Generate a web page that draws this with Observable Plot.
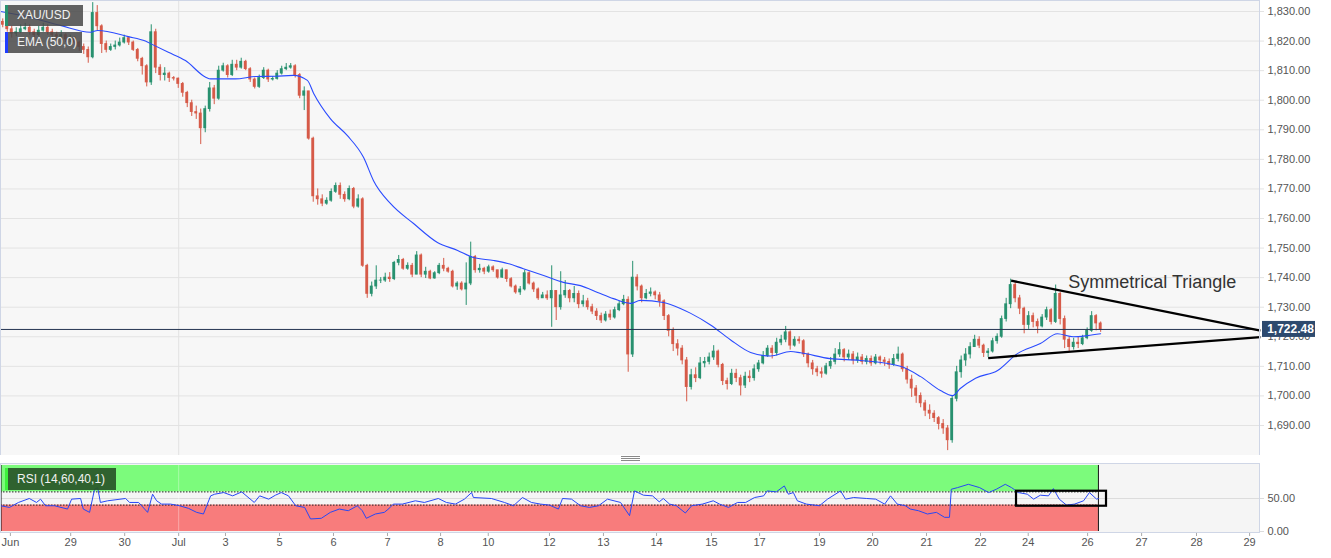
<!DOCTYPE html>
<html><head><meta charset="utf-8">
<script src="https://cdn.jsdelivr.net/npm/d3@7"></script>
<script src="https://cdn.jsdelivr.net/npm/@observablehq/plot@0.6"></script>
<style>
html,body{margin:0;padding:0;background:#fff;}
#chart{position:relative;width:1331px;height:558px;overflow:hidden;font-family:"Liberation Sans",Arial,sans-serif;background:#fff;}
#chart svg{position:absolute;left:0;}
.leg{position:absolute;left:5px;height:21px;line-height:21px;color:#f2f2f2;font-size:12px;padding-left:12px;box-sizing:border-box;white-space:nowrap;}
.leg i{position:absolute;left:0;top:0;bottom:0;width:3px;}
.handle{position:absolute;left:621px;top:456px;width:19px;height:5px;background:repeating-linear-gradient(#8a8a8a 0 1px,transparent 1px 2px);}
</style></head><body><div id="chart"></div>
<script>
// ---------- DATA ----------
const symbol = "XAU/USD";
const emaLabel = "EMA (50,0)";
const rsiLabel = "RSI (14,60,40,1)";
const firstOpen = 1826.5;
const lastPrice = 1722.48;

// 2-hour candles, 12 per session
const closes = [
1825.5,1824.0,1822.5,1823.0,1824.0,1824.5,1823.0,1822.0,1823.5,1824.5,1823.0,1822.0,
1821.5,1822.0,1820.5,1821.0,1819.5,1818.0,1817.0,1814.5,1829.5,1825.0,1819.0,1817.0,
1818.0,1818.5,1819.5,1821.0,1819.5,1817.0,1814.0,1811.5,1806.0,1823.0,1811.0,1808.5,
1809.0,1807.5,1807.3,1805.5,1802.5,1799.0,1796.0,1795.5,1790.5,1797.0,1804.0,1800.5,
1810.0,1811.5,1808.5,1812.0,1811.0,1813.0,1810.5,1807.0,1804.5,1807.5,1810.0,1807.0,
1807.2,1809.0,1810.5,1811.0,1811.5,1808.5,1801.5,1803.0,1787.0,1767.5,1766.5,1765.0,
1766.0,1769.0,1771.0,1768.0,1766.5,1770.0,1764.0,1766.5,1744.0,1734.5,1737.0,1739.0,
1739.0,1740.0,1739.5,1745.0,1746.0,1743.0,1744.0,1741.0,1747.5,1741.0,1742.0,1739.7,
1741.5,1744.0,1743.0,1742.0,1737.0,1738.0,1736.0,1738.0,1747.0,1742.5,1743.0,1742.0,
1743.5,1742.5,1740.0,1742.5,1739.5,1737.0,1735.0,1736.0,1741.5,1738.0,1736.0,1733.0,
1734.0,1733.0,1735.5,1730.0,1734.0,1735.5,1733.0,1734.5,1731.0,1732.0,1730.0,1728.5,
1727.0,1725.5,1727.5,1726.5,1729.0,1731.0,1732.5,1714.0,1740.0,1737.0,1733.0,1734.5,
1735.0,1734.0,1732.0,1727.0,1722.0,1717.5,1716.0,1712.0,1703.0,1707.0,1706.0,1711.0,
1711.5,1713.0,1715.0,1710.5,1705.0,1704.0,1707.5,1706.0,1703.5,1706.5,1706.0,1709.0,
1711.0,1713.5,1716.0,1714.5,1718.0,1719.0,1721.5,1717.0,1719.0,1718.5,1714.0,1711.0,
1709.0,1708.0,1707.5,1710.0,1711.5,1714.0,1715.5,1713.0,1714.0,1712.0,1713.0,1711.5,
1712.5,1711.0,1713.0,1712.0,1711.5,1710.5,1712.5,1714.0,1709.0,1705.5,1702.5,1700.0,
1697.5,1695.0,1694.0,1692.5,1690.5,1689.0,1685.0,1699.0,1708.0,1712.0,1714.0,1716.5,
1719.0,1717.0,1714.5,1715.0,1718.5,1720.0,1726.0,1731.0,1737.5,1733.0,1729.5,1724.0,
1727.0,1725.0,1723.5,1726.5,1729.0,1725.0,1734.5,1726.0,1719.0,1716.5,1718.0,1717.5,
1719.5,1722.0,1727.0,1724.5,1722.48
];
const highs = [
1827.5,1826.5,1825,1824.5,1825.5,1826,1825.5,1824,1825,1826,1825.5,1824,
1823,1823.5,1822.5,1822,1821.5,1820,1819,1818,1833,1832,1825.5,1820,
1819,1820,1821,1822,1821.5,1820,1817.5,1814.5,1812,1825.5,1824,1812,
1811,1809.5,1808,1807.5,1806,1803,1800,1798,1797,1798,1806,1805,
1811.5,1812.5,1812,1813.5,1813.5,1814.2,1813.5,1811,1807.5,1808.5,1811,1810.5,
1808,1810,1811.5,1812.4,1812.4,1812,1809,1804.5,1803,1787.5,1770,1768,
1767,1770,1772,1772,1769,1771,1770.5,1768,1767,1744.5,1738.5,1744,
1740,1741.5,1741.7,1745.5,1747.5,1746.5,1745,1744.8,1748.8,1748,1743.5,1742.5,
1742,1744.8,1746.5,1743.5,1742.5,1738.6,1738.6,1745,1752,1747.5,1744.5,1743.5,
1744.2,1744,1742.5,1743.2,1742.2,1740,1737.5,1737,1742.5,1742,1738.5,1736.5,
1735,1735.5,1744,1735.5,1742,1739,1736,1737,1735.5,1734,1733,1731,
1729.5,1728,1728.5,1729,1730,1732,1734,1733.5,1745.5,1741,1737.5,1736,
1736.5,1735.5,1735,1732.5,1727.5,1723,1719,1717,1713,1709,1709.5,1713,
1713,1714.5,1717,1715.5,1711,1706,1709,1709,1707,1708,1708.5,1710.5,
1712,1715,1717,1717,1719.5,1720.5,1723.5,1722,1720,1720,1719,1714.5,
1712,1710,1709.5,1711,1713,1716,1718,1716,1715.5,1715,1714.5,1714,
1713.5,1713.5,1714,1713.5,1713,1712.5,1714,1716.5,1714.5,1710,1707,1703.5,
1701,1698.5,1697,1695,1693,1692,1690,1700,1710,1713.5,1716,1718,
1720.5,1720,1717.5,1716,1719.5,1721,1727,1733,1739.5,1738.5,1734,1730,
1728.5,1728,1726,1727.5,1730,1729.5,1737.5,1735,1727,1720,1719.5,1720,
1720.5,1723,1728.5,1727.5,1725
];
const lows = [
1824.5,1823,1821,1821.5,1822.5,1823.5,1822,1821,1821.5,1823,1822,1820.5,
1820,1820.5,1819.5,1819.5,1818.5,1816.5,1815.5,1812.5,1814,1823.5,1815.8,1816,
1816.5,1817,1818,1819,1818.5,1816.5,1813,1808.5,1804.5,1805,1809,1806.5,
1806.5,1806,1806.5,1804,1801,1797.5,1794.5,1793.5,1785,1789,1796,1798.5,
1800,1809.5,1807.5,1808,1810,1810.5,1810,1806,1803.8,1804,1807,1806,
1806.5,1806.8,1808.5,1810,1810.5,1807.5,1800.5,1796.5,1786.5,1765.5,1764.5,1764,
1764.5,1765.5,1768.5,1766.5,1765.5,1766,1763.3,1763.5,1743.5,1733,1733.5,1736,
1738,1738.4,1738.4,1739,1744,1742.5,1742.5,1740,1741,1740,1739.7,1739.3,
1739.5,1741,1742,1741.5,1736.5,1735.7,1735.5,1730.6,1737.3,1741.5,1741.5,1741,
1741.5,1741.8,1739.5,1739.7,1738.4,1736.5,1734.4,1734,1735.5,1737.5,1735,1732.3,
1733,1732.3,1723.2,1725.5,1729,1733,1731.5,1731.5,1729.5,1730,1729,1727.5,
1725.5,1724.5,1725,1725.5,1726,1728.5,1730.5,1708,1713,1735.5,1731.5,1732.5,
1733.5,1732.5,1730,1725.5,1720,1715,1713.5,1710.5,1698,1702,1704.5,1705.5,
1709.5,1710.5,1712,1709.5,1703.5,1702,1703.5,1704.5,1700,1702.5,1704.5,1705,
1708,1710.5,1713,1712.5,1713.5,1717,1718,1715.5,1716.5,1717.5,1713,1709.5,
1707,1706.5,1706,1707,1709,1710.5,1713,1711.5,1712,1710.5,1711,1710.5,
1710.5,1710,1710.5,1710.5,1710,1709,1710,1711.5,1708,1704,1699.5,1697.5,
1696,1693,1692,1691,1688.5,1687,1681.5,1684,1698,1706,1710,1712.5,
1717.5,1716,1713,1713,1714.5,1717.5,1719.5,1725,1729.5,1731.5,1727.5,1721,
1722.5,1723,1721,1723,1725.5,1724,1724.5,1724,1716,1715,1715.5,1716,
1717,1719,1721.5,1722,1721.5
];

// EMA(50) (candle-index position, value)
const emaIdx = [-0.5,6.2,12.8,19.5,21.1,27.9,31.7,33.3,36.8,40.6,45.1,46.2,51.7,56.2,60.6,64.6,67.7,69.1,72.8,76.6,80.2,82.4,86.2,91.3,96.6,101.1,104.6,109.1,112.2,115.7,120.2,124.6,128.4,132.2,135.7,139.5,141.7,146.8,150.6,152.8,157.3,161.7,166.2,170.6,175.1,177.3,183.9,190.6,199.5,203.9,208.4,211.1,212.8,216.2,221.1,225.5,230.6,234.4,237.9,241.1,244];
const emaVal = [1830.0,1828.0,1825.3,1823.0,1823.6,1821.5,1820.0,1818.8,1816.2,1813.4,1807.8,1807.2,1807.2,1808.0,1808.1,1808.4,1806.7,1802.3,1793.8,1788.0,1780.6,1772.8,1765.0,1758.3,1751.9,1749.2,1746.8,1745.8,1744.8,1743.0,1740.7,1738.4,1737.3,1735.0,1732.9,1731.3,1732.3,1731.6,1729.6,1728.0,1724.0,1719.0,1714.7,1713.5,1715.0,1714.6,1712.6,1712.0,1710.0,1706.6,1701.8,1700.1,1702.5,1706.0,1708.6,1714.3,1717.7,1721.0,1720.0,1720.4,1721.0];

// RSI(14)
const rsiIdx = [
-0.5,1.5,3.5,5.9,7.5,8.4,9.5,11.5,14.4,15.3,
17.3,17.9,19.3,20.4,21.1,21.7,23.3,27.3,28.2,30.2,
32.2,33.3,34.2,35.3,37.3,39.3,41.3,43.1,44.6,46.2,
47.1,49.1,51.1,53.1,55.9,57.1,59.1,60.6,61.9,63.5,
65.1,67.1,68.4,70.8,72.8,74.8,76.8,78.8,79.9,80.8,
82.8,84.8,85.7,86.8,88.8,91.7,93.7,96.8,98.6,100.6,
102.6,104.2,104.6,108.6,111.5,113.5,115.5,117.5,119.5,121.5,
123.5,124.4,126.4,128.4,130.4,132.4,134.4,137.3,139.3,140.4,
142.4,144.4,145.9,146.8,148.2,149.7,151.7,153.1,155.5,157.9,
159.3,161.3,163.3,165.1,167.1,169.1,169.9,171.9,173.7,174.6,
175.7,176.6,178.6,181.5,183.3,186.2,187.3,189.1,192.0,194.0,
196.0,197.3,198.8,200.6,201.7,203.5,205.5,207.5,209.3,210.4,
210.8,212.2,214.6,217.1,219.1,220.8,222.8,224.2,225.7,227.7,
229.1,230.6,232.4,233.5,234.8,236.4,238.2,240.2,241.5,243.1,
243.5];
const rsiVal = [
39,36.5,44,50,44,49,39,39,34,49,
50,34,29,64,66.5,44,46.5,50,44,44,
29,56.5,46.5,41.5,41.5,39,35,29,26.5,54,
56.5,59,54,60,44,54,49,55,59,54,
39,36.5,19,20,29,34,31.5,39,31.5,20,
26.5,29,34,41.5,41.5,46.5,44,50,44,41.5,
49,59,51.5,50,44,39,51.5,44,41.5,40,
34,50,49,39,36.5,39,49,44,24,61.5,
55,54,45,50,41.5,39,28,39,41.5,46.5,
41.5,36.5,44,44,51.5,54,61.5,60,69,56.5,
59,46.5,41.5,39,49,61.5,49,51.5,50,49,
41.5,54,41.5,39,34,31.5,26.5,29,21.5,21.5,
64,66.5,71.5,66.5,59,64,71.5,66.5,59,56.5,
49,55,54,65,49,40,41.5,46.5,59,49,
50];

const priceTicks = [1690,1700,1710,1720,1730,1740,1750,1760,1770,1780,1790,1800,1810,1820,1830];
const rsiTicks = [0, 50];
const rsiUpper = 60, rsiLower = 40;
const xTickPos = [1.7,15.1,27.1,39.1,49.5,61.5,73.5,85.5,97.3,107.9,121.5,133.5,145.3,157.5,168.2,181.5,193.3,205.3,217.3,227.9,241.1,253.1,265.3,277.1];
const xTickLabels = ["Jun","29","30","Jul","3","5","6","7","8","10","12","13","14","15","17","19","20","21","22","24","26","27","28","29"];
const monthStart = 39.1;

// annotations
const triangleLines = [
  {x1: 224.1, y1: 1739.0, x2: 279.5, y2: 1722.1},
  {x1: 219.0, y1: 1712.8, x2: 279.5, y2: 1719.9}
];
const triangleLabel = {text: "Symmetrical Triangle", x: 236.8, y: 1738.4};
const rsiBox = {x1: 225.3, x2: 245.3, y1: 38.3, y2: 61};

// ---------- BUILD ----------
const fmt2 = d3.format(",.2f");
const xDomain = [-0.5, 279.3];
const up = "#28916f", down = "#d65a48";
const candles = closes.map((c, i) => {
  const o = i === 0 ? firstOpen : closes[i - 1];
  return {i, open: o, close: c, high: Math.max(highs[i], o, c), low: Math.min(lows[i], o, c), color: c >= o ? up : down};
});
const ema = emaIdx.map((x, k) => ({x, y: emaVal[k]}));
const rsi = rsiIdx.map((x, k) => ({x, y: rsiVal[k]}));
const rsiEnd = rsiIdx[rsiIdx.length - 1];
const xTicks = xTickPos.map((p, k) => ({p, label: xTickLabels[k]}));
const font = "Liberation Sans, Arial, sans-serif";

const main = Plot.plot({
  width: 1331, height: 455,
  marginLeft: 0, marginRight: 72, marginTop: 0, marginBottom: 0,
  style: {background: "transparent", color: "#555", fontFamily: font, fontSize: "11px"},
  x: {domain: xDomain, axis: null},
  y: {domain: [1679.85, 1833.72], axis: null},
  marks: [
    Plot.frame({fill: "#f7f7f7", stroke: "none"}),
    Plot.ruleY(priceTicks, {stroke: "#e3e3e3", insetRight: -5}),
    Plot.ruleX([monthStart], {stroke: "#e3e3e3"}),
    Plot.text(priceTicks, {y: d => d, frameAnchor: "right", dx: 8, textAnchor: "start", text: d => fmt2(d), fill: "#555", fontSize: 11}),
    Plot.ruleX(candles, {x: "i", y1: "low", y2: "high", stroke: "color", strokeWidth: 1}),
    Plot.rect(candles, {x1: d => d.i - 0.32, x2: d => d.i + 0.32, y1: "open", y2: "close", fill: "color", insetTop: -0.4, insetBottom: -0.4}),
    Plot.line(ema, {x: "x", y: "y", stroke: "#2a4bff", strokeWidth: 1.1, curve: "monotone-x"}),
    Plot.ruleY([lastPrice], {stroke: "#243350", strokeWidth: 1}),
    Plot.link(triangleLines, {x1: "x1", y1: "y1", x2: "x2", y2: "y2", stroke: "#000", strokeWidth: 2.3}),
    Plot.text([triangleLabel], {x: "x", y: "y", text: "text", textAnchor: "start", fontSize: 18, fill: "#333", fontFamily: font}),
    Plot.frame({stroke: "#cfd6e6"}),
    Plot.rect([lastPrice], {x1: () => xDomain[1], x2: () => xDomain[1], y1: d => d, y2: d => d, insetLeft: 3, insetRight: -56, insetTop: -8, insetBottom: -8, fill: "#2d4a6e"}),
    Plot.text([lastPrice], {x: () => xDomain[1], y: d => d, dx: 31, text: d => fmt2(d), fill: "#fff", fontWeight: "bold", fontSize: 12})
  ]
});
main.style.top = "0px";

const rsiZones = [
  {lo: rsiUpper, hi: 100, fill: "#7cfb7c"},
  {lo: 0, hi: rsiLower, fill: "#f87c7c"}
];
const rsiPlot = Plot.plot({
  width: 1331, height: 103,
  marginLeft: 0, marginRight: 72, marginTop: 8, marginBottom: 26,
  style: {background: "transparent", color: "#555", fontFamily: font, fontSize: "11px"},
  x: {domain: xDomain, axis: null},
  y: {domain: [-1.5, 103], axis: null},
  marks: [
    Plot.frame({fill: "#f5f5f5", stroke: "none"}),
    Plot.rect(rsiZones, {x1: () => xDomain[0], x2: () => rsiEnd, y1: "lo", y2: "hi", fill: "fill"}),
    Plot.ruleY([50], {stroke: "#dcdcdc", insetRight: -5}),
    Plot.ruleY([0], {x1: () => xDomain[1], x2: () => xDomain[1], insetRight: -5, stroke: "#dcdcdc"}),
    Plot.ruleX([monthStart], {y1: 0, y2: 100, stroke: "#ffffff", strokeOpacity: 0.35}),
    Plot.ruleY([rsiLower, rsiUpper], {x1: () => xDomain[0], x2: () => rsiEnd, stroke: "#222", strokeDasharray: "1.5,1.5"}),
    Plot.ruleX([rsiEnd], {y1: 0, y2: 100, stroke: "#111"}),
    Plot.ruleX([xDomain[0]], {y1: 0, y2: 100, stroke: "#111", strokeWidth: 2}),
    Plot.line(rsi, {x: "x", y: "y", stroke: "#2747f5", strokeWidth: 1}),
    Plot.rect([rsiBox], {x1: "x1", x2: "x2", y1: "y1", y2: "y2", stroke: "#000", strokeWidth: 2.2, fill: "none"}),
    Plot.text(rsiTicks, {y: d => d, frameAnchor: "right", dx: 8, textAnchor: "start", text: d => fmt2(d), fill: "#555", fontSize: 11}),
    Plot.ruleX(xTicks, {x: "p", y1: () => -1.5, y2: () => -1.5, insetBottom: -4, stroke: "#aaa"}),
    Plot.text(xTicks, {x: "p", text: "label", frameAnchor: "bottom", dy: 13, fill: "#555", fontSize: 11}),
    Plot.frame({stroke: "#cfd6e6"})
  ]
});
rsiPlot.style.top = "455px";

const chart = document.getElementById("chart");
chart.appendChild(main);
chart.appendChild(rsiPlot);

function legend(text, top, width, bg, bar, h) {
  const d = document.createElement("div");
  d.className = "leg";
  d.style.top = top + "px";
  d.style.width = width + "px";
  d.style.background = bg;
  if (h) { d.style.height = h + "px"; d.style.lineHeight = h + "px"; }
  const i = document.createElement("i");
  i.style.background = bar;
  d.appendChild(i);
  d.appendChild(document.createTextNode(text));
  chart.appendChild(d);
}
legend(symbol, 5, 78, "rgba(72,72,72,0.85)", up);
legend(emaLabel, 32, 77, "rgba(72,72,72,0.85)", "#1f3dff");
legend(rsiLabel, 468, 111, "rgba(40,85,40,0.92)", "#3df03d", 22);
const h = document.createElement("div");
h.className = "handle";
chart.appendChild(h);
</script></body></html>
